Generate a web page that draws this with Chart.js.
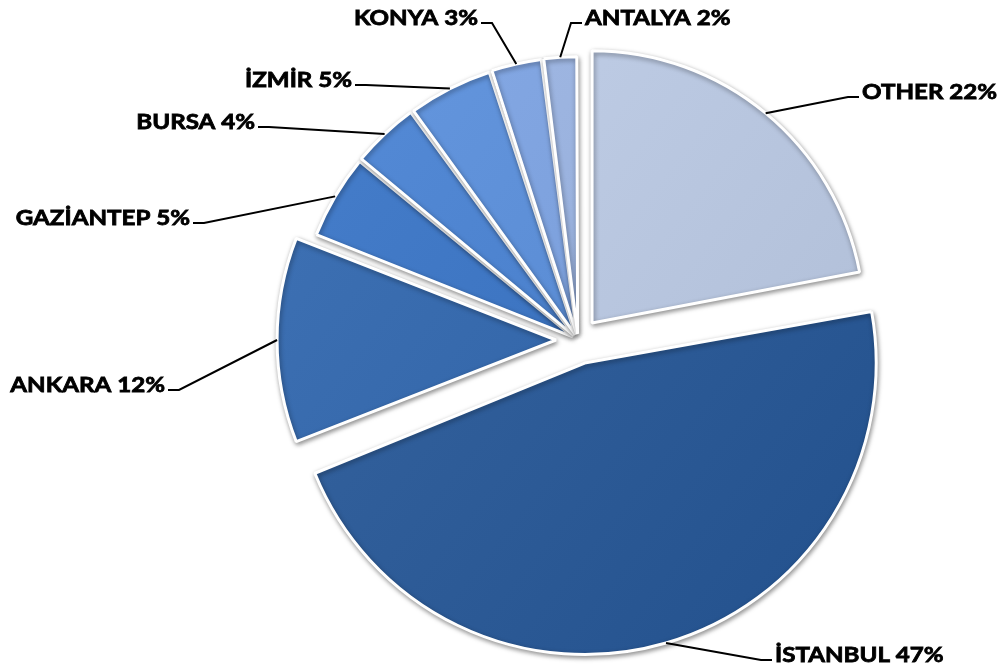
<!DOCTYPE html>
<html lang="tr">
<head>
<meta charset="UTF-8">
<title>Pie</title>
<style>
  html, body { margin: 0; padding: 0; background: #fff; }
  .wrap { width: 998px; height: 671px; }
</style>
</head>
<body>
<div class="wrap"><canvas id="myChart" width="998" height="671"></canvas></div>

<script src="https://cdn.jsdelivr.net/npm/chart.js"></script>
<script>
// data (clockwise from 12 o'clock)
const cities = ['OTHER', 'İSTANBUL', 'ANKARA', 'GAZİANTEP', 'BURSA', 'İZMİR', 'KONYA', 'ANTALYA'];
const shares = [22, 47, 12, 5, 4, 5, 3, 2];
const sliceColors = ['#b7c5de', '#2c5a96', '#3467aa', '#3b73c0', '#4a80cc', '#5a8cd4', '#7b9fdb', '#97afdb'];
const explode = [88, 96, 88, 24, 24, 24, 24, 24];

// where each label text sits, and which side the leader line joins
const labelSpots = [
  { x: 862, y: 92, align: 'left' },
  { x: 775, y: 655, align: 'left' },
  { x: 165, y: 385, align: 'right' },
  { x: 190, y: 218, align: 'right' },
  { x: 255, y: 122, align: 'right' },
  { x: 352, y: 80, align: 'right' },
  { x: 478, y: 18, align: 'right' },
  { x: 585, y: 18, align: 'left' }
];
const stretchX = 1.15;

function shade(hex, amt) {
  const n = parseInt(hex.slice(1), 16);
  const f = v => Math.max(0, Math.min(255, Math.round(v + amt * 255)));
  const r = f(n >> 16), g = f((n >> 8) & 255), b = f(n & 255);
  return 'rgb(' + r + ',' + g + ',' + b + ')';
}

function sliceFill(context) {
  const base = sliceColors[context.dataIndex];
  const area = context.chart.chartArea;
  if (!area) return base;
  const g = context.chart.ctx.createLinearGradient(area.left, area.top, area.right, area.bottom);
  g.addColorStop(0, shade(base, 0.06));
  g.addColorStop(1, shade(base, -0.05));
  return g;
}

const shadowPlugin = {
  id: 'shadow',
  beforeDatasetsDraw(chart) {
    const c = chart.ctx;
    c.save();
    c.shadowColor = 'rgba(0,0,0,0.4)';
    c.shadowBlur = 5;
    c.shadowOffsetX = 1;
    c.shadowOffsetY = 2;
  },
  afterDatasetsDraw(chart) {
    chart.ctx.restore();
  }
};

const leaderLabels = {
  id: 'leaderLabels',
  afterDraw(chart) {
    const c = chart.ctx;
    const arcs = chart.getDatasetMeta(0).data;
    c.save();
    c.font = 'bold 21px Lato';
    c.textBaseline = 'middle';
    c.strokeStyle = '#000';
    c.fillStyle = '#000';
    arcs.forEach((arc, i) => {
      const p = arc.getProps(['x', 'y', 'startAngle', 'endAngle', 'outerRadius']);
      const mid = (p.startAngle + p.endAngle) / 2;
      const t = (arc.options.offset || 0) / 4;
      const fix = 1 - Math.sin(Math.min(Math.PI, p.endAngle - p.startAngle));
      const r = p.outerRadius + t * fix;
      const ax = p.x + Math.cos(mid) * (t + r);
      const ay = p.y + Math.sin(mid) * (t + r);
      const spot = labelSpots[i];
      const dir = spot.align === 'right' ? 1 : -1;
      c.lineWidth = 2;
      c.beginPath();
      c.moveTo(ax, ay);
      c.lineTo(spot.x + dir * 14, spot.y + 5);
      c.lineTo(spot.x + dir * 3, spot.y + 5);
      c.stroke();

      const text = cities[i] + ' ' + shares[i] + '%';
      c.save();
      c.translate(spot.x, spot.y);
      c.scale(stretchX, 1);
      c.textAlign = spot.align;
      c.lineWidth = 0.8;
      c.fillText(text, 0, 0);
      c.strokeText(text, 0, 0);
      c.restore();
    });
    c.restore();
  }
};

const ctx = document.getElementById('myChart');
new Chart(ctx, {
  type: 'pie',
  data: {
    labels: cities,
    datasets: [{
      data: shares,
      backgroundColor: sliceFill,
      borderColor: '#ffffff',
      borderWidth: 3,
      offset: explode
    }]
  },
  options: {
    responsive: false,
    animation: false,
    radius: 272,
    layout: { padding: { left: 158, top: 9, right: 0, bottom: 0 } },
    plugins: {
      legend: { display: false },
      tooltip: { enabled: false }
    }
  },
  plugins: [shadowPlugin, leaderLabels]
});
</script>
</body>
</html>
